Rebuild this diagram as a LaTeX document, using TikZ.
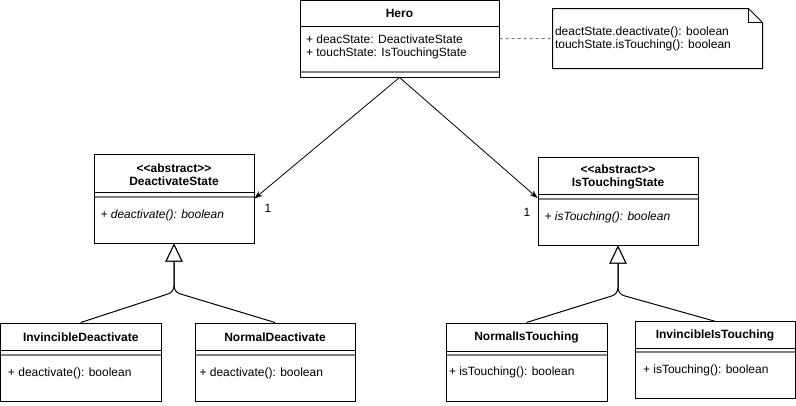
\documentclass[tikz,border=0pt]{standalone}
\usepackage{fontspec}
\setmainfont{Liberation Sans}
\usetikzlibrary{arrows.meta}

\begin{document}
\begin{tikzpicture}[x=1pt,y=-1pt,line width=1pt,
        font=\fontsize{12}{14}\selectfont,
        classbox/.style={draw,inner sep=0pt,fill=white},
        title/.style={font=\fontsize{12}{13}\selectfont\bfseries,align=center,inner sep=0pt},
        member/.style={anchor=west,inner sep=0pt},
        abstractop/.style={member,font=\fontsize{12}{14}\selectfont\itshape},
        sep/.style={draw=gray,line width=2pt},
        assoc/.style={-{Stealth[length=8pt,width=6pt]},line width=0.8pt},
        gen/.style={-{Triangle[open,length=18pt,width=17pt,fill=white]},rounded corners=6pt},
        notelink/.style={draw=gray,dash pattern=on 3pt off 3pt}]
        \useasboundingbox (0,0) rectangle (796,405);

        \node[classbox,minimum width=199pt,minimum height=76.5pt] (hero) at (399.5,38.75) {};
        \node[title] (herotitle) at (399.5,13.5) {Hero};
        \draw (300,26) -- (499,26);
        \node[member] (herodeac) at (305.5,39) {+ deacState: DeactivateState};
        \node[member] (herotouch) at (305.5,53) {+ touchState: IsTouchingState};
        \draw[sep] (300.5,72) -- (498.5,72);

        \node[inner sep=0pt,minimum width=209pt,minimum height=59pt] (note) at (657.5,38.5) {};
        \draw (note.north west) -- ([xshift=-14pt]note.north east) -- ([yshift=-14pt]note.north east)
            -- (note.south east) -- (note.south west) -- cycle;
        \draw ([xshift=-14pt]note.north east) |- ([yshift=-14pt]note.north east);
        \node[member,align=left,font=\fontsize{12}{13}\selectfont] (notetext) at (554.5,38.7)
            {deactState.deactivate(): boolean\\touchState.isTouching(): boolean};
        \draw[notelink] (hero.east) -- (note.west);

        \node[classbox,minimum width=160pt,minimum height=89pt] (deac) at (174,198.5) {};
        \node[title] (deactitle) at (174,174.5) {<{}<abstract>{}>\\DeactivateState};
        \draw (94,192) -- (254,192);
        \draw[sep] (94.5,197) -- (253.5,197);
        \node[abstractop] (deacop) at (100,215) {+ deactivate(): boolean};

        \node[classbox,minimum width=160pt,minimum height=88pt] (touch) at (618,201) {};
        \node[title] (touchtitle) at (618,177) {<{}<abstract>{}>\\IsTouchingState};
        \draw (538,194) -- (698,194);
        \draw[sep] (538.5,199) -- (697.5,199);
        \node[abstractop] (touchop) at (544,217) {+ isTouching(): boolean};

        \node[classbox,minimum width=160.5pt,minimum height=78pt] (invdeac) at (80.75,362) {};
        \node[title] (invdeactitle) at (80.75,337) {InvincibleDeactivate};
        \draw (0.5,350) -- (161,350);
        \draw[sep] (1,355) -- (160.5,355);
        \node[member] (invdeacop) at (7.5,373) {+ deactivate(): boolean};

        \node[classbox,minimum width=160pt,minimum height=78pt] (normdeac) at (275,362) {};
        \node[title] (normdeactitle) at (275,337) {NormalDeactivate};
        \draw (195,350) -- (355,350);
        \draw[sep] (195.5,355) -- (354.5,355);
        \node[member] (normdeacop) at (199,373) {+ deactivate(): boolean};

        \node[classbox,minimum width=161pt,minimum height=78pt] (normtouch) at (526.5,362) {};
        \node[title] (normtouchtitle) at (526.5,337) {NormalIsTouching};
        \draw (446,351) -- (607,351);
        \draw[sep] (446.5,355) -- (606.5,355);
        \node[member] (normtouchop) at (448.5,372) {+ isTouching(): boolean};

        \node[classbox,minimum width=160pt,minimum height=76.5pt] (invtouch) at (715,360) {};
        \node[title] (invtouchtitle) at (715,335.5) {InvincibleIsTouching};
        \draw (635,348) -- (795,348);
        \draw[sep] (635.5,352) -- (794.5,352);
        \node[member] (invtouchop) at (642.5,370) {+ isTouching(): boolean};

        \draw[assoc] (hero.south) -- (deac.east);
        \draw[assoc] (hero.south) -- ([yshift=3pt]touch.west);
        \node[inner sep=0pt] (deacmult) at (268,208) {1};
        \node[inner sep=0pt] (touchmult) at (527,212) {1};

        \coordinate (deacsplit) at (174,292);
        \coordinate (touchsplit) at (618,294);
        \draw[gen] (invdeac.north) -- (deacsplit) -- (deac.south);
        \draw[gen] (normdeac.north) -- (deacsplit) -- (deac.south);
        \draw[gen] (normtouch.north) -- (touchsplit) -- (touch.south);
        \draw[gen] (invtouch.north) -- (touchsplit) -- (touch.south);
\end{tikzpicture}
\end{document}
